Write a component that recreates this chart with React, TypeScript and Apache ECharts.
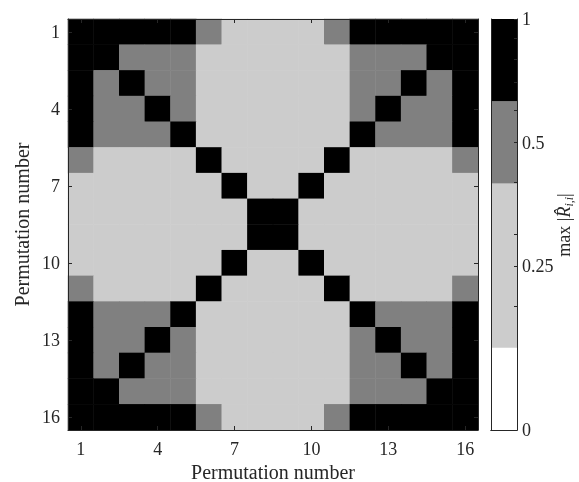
import React, { useEffect, useRef } from 'react';
import * as echarts from 'echarts';

// ---- data ----
const permutations = ['1', '2', '3', '4', '5', '6', '7', '8', '9', '10', '11', '12', '13', '14', '15', '16'];
const shownTickLabels = ['1', '4', '7', '10', '13', '16'];

// max |R_ij| per cell, rows = permutation 1..16 (top to bottom)
const row1 = [1, 1, 1, 1, 1, 0.5, 0.25, 0.25, 0.25, 0.25, 0.5, 1, 1, 1, 1, 1];
const row2 = [1, 1, 0.5, 0.5, 0.5, 0.25, 0.25, 0.25, 0.25, 0.25, 0.25, 0.5, 0.5, 0.5, 1, 1];
const row3 = [1, 0.5, 1, 0.5, 0.5, 0.25, 0.25, 0.25, 0.25, 0.25, 0.25, 0.5, 0.5, 1, 0.5, 1];
const row4 = [1, 0.5, 0.5, 1, 0.5, 0.25, 0.25, 0.25, 0.25, 0.25, 0.25, 0.5, 1, 0.5, 0.5, 1];
const row5 = [1, 0.5, 0.5, 0.5, 1, 0.25, 0.25, 0.25, 0.25, 0.25, 0.25, 1, 0.5, 0.5, 0.5, 1];
const row6 = [0.5, 0.25, 0.25, 0.25, 0.25, 1, 0.25, 0.25, 0.25, 0.25, 1, 0.25, 0.25, 0.25, 0.25, 0.5];
const row7 = [0.25, 0.25, 0.25, 0.25, 0.25, 0.25, 1, 0.25, 0.25, 1, 0.25, 0.25, 0.25, 0.25, 0.25, 0.25];
const row8 = [0.25, 0.25, 0.25, 0.25, 0.25, 0.25, 0.25, 1, 1, 0.25, 0.25, 0.25, 0.25, 0.25, 0.25, 0.25];
const row9 = [0.25, 0.25, 0.25, 0.25, 0.25, 0.25, 0.25, 1, 1, 0.25, 0.25, 0.25, 0.25, 0.25, 0.25, 0.25];
const row10 = [0.25, 0.25, 0.25, 0.25, 0.25, 0.25, 1, 0.25, 0.25, 1, 0.25, 0.25, 0.25, 0.25, 0.25, 0.25];
const row11 = [0.5, 0.25, 0.25, 0.25, 0.25, 1, 0.25, 0.25, 0.25, 0.25, 1, 0.25, 0.25, 0.25, 0.25, 0.5];
const row12 = [1, 0.5, 0.5, 0.5, 1, 0.25, 0.25, 0.25, 0.25, 0.25, 0.25, 1, 0.5, 0.5, 0.5, 1];
const row13 = [1, 0.5, 0.5, 1, 0.5, 0.25, 0.25, 0.25, 0.25, 0.25, 0.25, 0.5, 1, 0.5, 0.5, 1];
const row14 = [1, 0.5, 1, 0.5, 0.5, 0.25, 0.25, 0.25, 0.25, 0.25, 0.25, 0.5, 0.5, 1, 0.5, 1];
const row15 = [1, 1, 0.5, 0.5, 0.5, 0.25, 0.25, 0.25, 0.25, 0.25, 0.25, 0.5, 0.5, 0.5, 1, 1];
const row16 = [1, 1, 1, 1, 1, 0.5, 0.25, 0.25, 0.25, 0.25, 0.5, 1, 1, 1, 1, 1];
const maxR = [row1, row2, row3, row4, row5, row6, row7, row8, row9, row10, row11, row12, row13, row14, row15, row16];

// colormap (log-spaced colorbar from 0.1 to 1)
const levelColors = ['#ffffff', '#cccccc', '#808080', '#000000'];
const levelEdges = [0.1, 0.1585, 0.3981, 0.631, 1];
const cbMajorTicks = [0.1, 0.25, 0.5, 1];
const cbMajorLabels = ['0', '0.25', '0.5', '1'];
const cbMinorTicks = [0.2, 0.3, 0.4, 0.6, 0.7, 0.8, 0.9];

const FONT = 'Liberation Serif';
const INK = '#262626';

const cbPos = (v: number) => Math.log10(v / levelEdges[0]) / Math.log10(levelEdges[levelEdges.length - 1] / levelEdges[0]);

export default function App() {
  const ref = useRef<HTMLDivElement>(null);
  useEffect(() => {
    const chart = echarts.init(ref.current!, null, { renderer: 'svg' });
    const heat: any[] = [];
    maxR.forEach((row, r) => row.forEach((v, c) => heat.push([c, r, v])));
    const showIdx = (i: number) => shownTickLabels.includes(permutations[i]);

    const mainX = (pos: 'bottom' | 'top', labels: boolean) => ({
      type: 'category',
      gridIndex: 0,
      position: pos,
      data: permutations,
      z: 10,
      axisLine: { show: true, lineStyle: { color: INK, width: 1 } },
      axisTick: { show: true, inside: true, length: 4, alignWithLabel: true, interval: (i: number) => showIdx(i), lineStyle: { color: INK } },
      axisLabel: { show: labels, interval: (i: number) => showIdx(i), fontFamily: FONT, fontSize: 18, color: INK, margin: 10 },
      splitLine: { show: false },
      name: labels ? 'Permutation number' : '',
      nameLocation: 'middle',
      nameMoveOverlap: false,
      nameGap: 32,
      nameTextStyle: { fontFamily: FONT, fontSize: 20, color: INK },
    });
    const mainY = (pos: 'left' | 'right', labels: boolean) => ({
      type: 'category',
      gridIndex: 0,
      position: pos,
      inverse: true,
      data: permutations,
      z: 10,
      axisLine: { show: true, lineStyle: { color: INK, width: 1 } },
      axisTick: { show: true, inside: true, length: 4, alignWithLabel: true, interval: (i: number) => showIdx(i), lineStyle: { color: INK } },
      axisLabel: { show: labels, interval: (i: number) => showIdx(i), fontFamily: FONT, fontSize: 18, color: INK, margin: 8 },
      splitLine: { show: false },
      name: labels ? 'Permutation number' : '',
      nameLocation: 'middle',
      nameMoveOverlap: false,
      nameGap: 36,
      nameTextStyle: { fontFamily: FONT, fontSize: 20, color: INK },
    });

    const cbBars = levelColors.map((col, i) => ({
      type: 'bar',
      xAxisIndex: 2,
      yAxisIndex: 2,
      stack: 'cb',
      barWidth: '100%',
      silent: true,
      itemStyle: { color: col },
      data: [cbPos(levelEdges[i + 1]) - cbPos(levelEdges[i])],
    }));

    chart.setOption({
      animation: false,
      grid: [
        { left: 68, top: 19, width: 410, height: 411, outerBoundsMode: 'none', containLabel: false },
        { left: 491, top: 19, width: 26, height: 411, outerBoundsMode: 'none', containLabel: false },
      ],
      xAxis: [
        mainX('bottom', true),
        mainX('top', false),
        { type: 'category', gridIndex: 1, position: 'bottom', data: ['cb'], z: 10, axisLine: { show: true, lineStyle: { color: INK } }, axisTick: { show: false }, axisLabel: { show: false } },
        { type: 'category', gridIndex: 1, position: 'top', data: ['cb'], z: 10, axisLine: { show: true, lineStyle: { color: INK } }, axisTick: { show: false }, axisLabel: { show: false } },
      ],
      yAxis: [
        mainY('left', true),
        mainY('right', false),
        {
          type: 'value', gridIndex: 1, position: 'right', min: 0, max: 1, z: 10,
          axisLine: { show: true, lineStyle: { color: INK } },
          axisTick: { show: true, inside: true, length: 3, lineStyle: { color: INK }, customValues: [...cbMajorTicks, ...cbMinorTicks].map(cbPos) },
          axisLabel: {
            show: true, fontFamily: FONT, fontSize: 18, color: INK, margin: 5,
            customValues: cbMajorTicks.map(cbPos),
            formatter: (val: number) => {
              let best = 0;
              cbMajorTicks.forEach((t, i) => { if (Math.abs(cbPos(t) - val) < Math.abs(cbPos(cbMajorTicks[best]) - val)) best = i; });
              return cbMajorLabels[best];
            },
          },
          splitLine: { show: false },
        },
        { type: 'value', gridIndex: 1, position: 'left', min: 0, max: 1, z: 10, axisLine: { show: true, lineStyle: { color: INK } }, axisTick: { show: false }, axisLabel: { show: false }, splitLine: { show: false } },
      ],
      visualMap: {
        type: 'piecewise',
        show: false,
        seriesIndex: 0,
        pieces: [
          { gte: levelEdges[3], color: levelColors[3] },
          { gte: levelEdges[2], lt: levelEdges[3], color: levelColors[2] },
          { gte: levelEdges[1], lt: levelEdges[2], color: levelColors[1] },
          { lt: levelEdges[1], color: levelColors[0] },
        ],
      },
      series: [
        {
          type: 'heatmap',
          xAxisIndex: 0,
          yAxisIndex: 0,
          data: heat,
          silent: true,
          itemStyle: { borderWidth: 0 },
          emphasis: { disabled: true },
        },
        ...cbBars,
      ],
      graphic: [
        {
          type: 'text',
          x: 564,
          y: 225,
          rotation: Math.PI / 2,
          style: {
            text: '{n|max |}{r|R\u0302}{s|i,i}{n||}',
            align: 'center',
            verticalAlign: 'middle',
            fill: INK,
            rich: {
              n: { fontFamily: FONT, fontSize: 18, fill: INK, lineHeight: 24 },
              r: { fontFamily: FONT, fontSize: 18, fontStyle: 'italic', fill: INK, lineHeight: 24 },
              s: { fontFamily: FONT, fontSize: 12, fontStyle: 'italic', fill: INK, lineHeight: 24, verticalAlign: 'bottom', padding: [0, 0, 1, 0] },
            },
          },
        },
      ],
    });
    return () => chart.dispose();
  }, []);
  return <div ref={ref} style={{ position: 'fixed', left: 0, top: 0, width: 579, height: 482 }} />;
}
